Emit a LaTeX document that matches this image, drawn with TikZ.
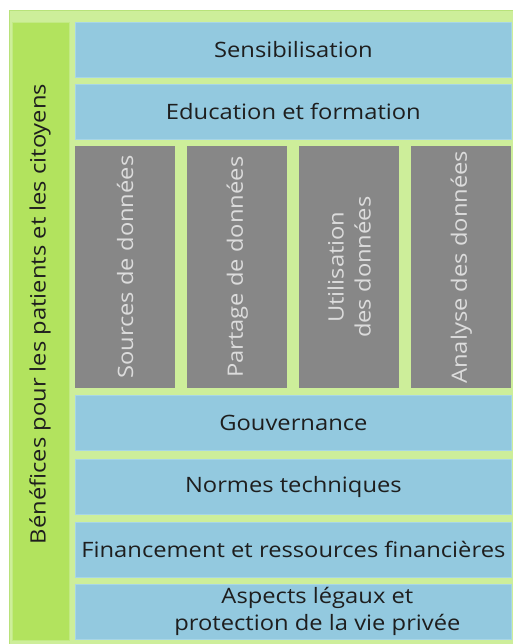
\documentclass[tikz,border=0pt]{standalone}
\usepackage{fontspec}
\setmainfont[FakeStretch=1.12]{Open Sans}
\definecolor{outerC}{HTML}{CDEE9A}
\definecolor{outerB}{HTML}{B8E27A}
\definecolor{barC}{HTML}{B2E35E}
\definecolor{barB}{HTML}{C2EA85}
\definecolor{blueC}{HTML}{93C9DF}
\definecolor{blueB}{HTML}{A8D6E6}
\definecolor{grayC}{HTML}{878787}
\definecolor{grayT}{HTML}{DCDCDC}
\definecolor{txtC}{HTML}{1E1E1E}
\tikzset{
  x=1pt, y=-1pt,
  bluebox/.style={fill=blueC, draw=blueB, line width=0.8pt, anchor=north west, inner sep=0pt,
    minimum width=436pt, minimum height=55pt, text=txtC, font=\fontsize{21.2}{27}\selectfont, align=center},
  graybox/.style={fill=grayC, draw=none, anchor=north west, inner sep=0pt,
    minimum width=100pt, minimum height=242pt},
  graytext/.style={rotate=90, text=grayT, font=\fontsize{21.2}{27}\selectfont, align=center, inner sep=0pt},
  bartext/.style={rotate=90, text=txtC, font=\fontsize{21.2}{27}\selectfont, inner sep=0pt},
  boxtext/.style={text=txtC, font=\fontsize{21.2}{27}\selectfont, align=center, inner sep=0pt}
}
\begin{document}
\begin{tikzpicture}
\useasboundingbox (0,0) rectangle (513,644);
\begin{scope}
\clip (0,0) rectangle (513,644);
\node[fill=outerC, draw=outerB, line width=1.2pt, anchor=north west, inner sep=0pt,
  minimum width=515pt, minimum height=640pt] (outer) at (9,10) {};
\node[fill=barC, draw=barB, line width=0.8pt, anchor=north west, inner sep=0pt,
  minimum width=57pt, minimum height=618pt] (bar) at (12,22) {};
\node[bartext] (bartxt) at (40,314) {Bénéfices pour les patients et les citoyens};
\node[bluebox] (sens) at (75,22) {Sensibilisation};
\node[bluebox] (edu) at (75,84) {Education et formation};
\node[graybox] (c1) at (75,146) {};
\node[graybox] (c2) at (187,146) {};
\node[graybox] (c3) at (299,146) {};
\node[graybox] (c4) at (411,146) {};
\node[graytext] (t1) at (c1.center) {Sources de données};
\node[graytext] (t2) at (c2.center) {Partage de données};
\node[graytext] (t3) at (c3.center) {Utilisation\\des données};
\node[graytext] (t4) at (c4.center) {Analyse des données};
\node[bluebox] (gouv) at (75,395) {Gouvernance};
\node[bluebox] (norm) at (75,459) {Normes techniques};
\node[bluebox] (fin) at (75,522) {Financement et ressources financières};
\node[bluebox] (asp) at (75,584) {};
\node[boxtext, xshift=24pt] (asptxt) at (asp.center) {Aspects légaux et\\protection de la vie privée};
\end{scope}
\end{tikzpicture}
\end{document}
